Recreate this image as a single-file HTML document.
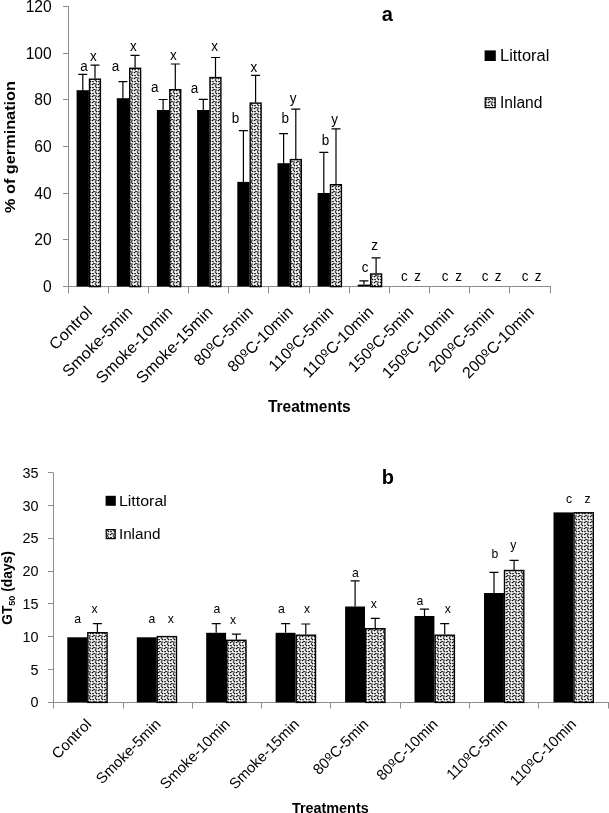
<!DOCTYPE html>
<html lang="en"><head><meta charset="utf-8"><title>Germination charts</title>
<style>html,body{margin:0;padding:0;background:#fff}svg{display:block}text{font-family:'Liberation Sans', Arial, sans-serif;fill:#000}</style>
</head><body>
<svg width="609" height="813" viewBox="0 0 609 813">
<defs><pattern id="dots" width="6" height="6" patternUnits="userSpaceOnUse"><rect width="6" height="6" fill="#fff"/><g fill="#000"><circle cx="2.5" cy="0.5" r="0.86"/><circle cx="2.5" cy="6.5" r="0.86"/><circle cx="-0.5" cy="2.0" r="0.86"/><circle cx="5.5" cy="2.0" r="0.86"/><circle cx="3.0" cy="3.5" r="0.86"/><circle cx="0.5" cy="3.5" r="0.86"/><circle cx="6.5" cy="3.5" r="0.86"/><circle cx="4.0" cy="-0.5" r="0.86"/><circle cx="4.0" cy="5.5" r="0.86"/><circle cx="0.0" cy="0.0" r="0.86"/><circle cx="0.0" cy="6.0" r="0.86"/><circle cx="6.0" cy="0.0" r="0.86"/><circle cx="6.0" cy="6.0" r="0.86"/></g></pattern></defs>
<rect width="609" height="813" fill="#fff"/>
<g stroke="#8c8c8c" stroke-width="1" fill="none">
<path d="M68.5 6.0V286.5H551.0"/>
<path d="M63.0 286.5H68.5M63.0 239.5H68.5M63.0 193.5H68.5M63.0 146.5H68.5M63.0 99.5H68.5M63.0 53.5H68.5M63.0 6.5H68.5M68.5 286.5v6.8M108.5 286.5v6.8M148.5 286.5v6.8M188.5 286.5v6.8M228.5 286.5v6.8M268.5 286.5v6.8M309.5 286.5v6.8M349.5 286.5v6.8M389.5 286.5v6.8M429.5 286.5v6.8M469.5 286.5v6.8M509.5 286.5v6.8M550.5 286.5v6.8"/>
</g>
<g font-size="15.6" text-anchor="end">
<text x="51.7" y="292.0">0</text>
<text x="51.7" y="245.3">20</text>
<text x="51.7" y="198.7">40</text>
<text x="51.7" y="152.0">60</text>
<text x="51.7" y="105.3">80</text>
<text x="51.7" y="58.7">100</text>
<text x="51.7" y="12.0">120</text>
</g>
<rect x="76.6" y="90.2" width="12.3" height="196.3" fill="#000"/>
<path d="M82.8 90.2V74.4M78.2 74.4h9" stroke="#000" stroke-width="1.2" fill="none"/>
<rect x="89.5" y="79.2" width="10.9" height="207.4" fill="url(#dots)" stroke="#000" stroke-width="1.4"/>
<path d="M95.0 78.6V65.2M90.5 65.2h9" stroke="#000" stroke-width="1.2" fill="none"/>
<rect x="116.8" y="98.2" width="12.3" height="188.3" fill="#000"/>
<path d="M122.9 98.2V81.7M118.4 81.7h9" stroke="#000" stroke-width="1.2" fill="none"/>
<rect x="129.7" y="68.3" width="10.9" height="218.3" fill="url(#dots)" stroke="#000" stroke-width="1.4"/>
<path d="M135.1 67.7V55.4M130.6 55.4h9" stroke="#000" stroke-width="1.2" fill="none"/>
<rect x="156.9" y="110.0" width="12.3" height="176.5" fill="#000"/>
<path d="M163.1 110.0V99.5M158.6 99.5h9" stroke="#000" stroke-width="1.2" fill="none"/>
<rect x="169.8" y="89.7" width="10.9" height="196.9" fill="url(#dots)" stroke="#000" stroke-width="1.4"/>
<path d="M175.3 89.1V64.0M170.8 64.0h9" stroke="#000" stroke-width="1.2" fill="none"/>
<rect x="197.1" y="110.0" width="12.3" height="176.5" fill="#000"/>
<path d="M203.3 110.0V99.3M198.8 99.3h9" stroke="#000" stroke-width="1.2" fill="none"/>
<rect x="210.0" y="77.6" width="10.9" height="209.0" fill="url(#dots)" stroke="#000" stroke-width="1.4"/>
<path d="M215.5 77.0V57.5M211.0 57.5h9" stroke="#000" stroke-width="1.2" fill="none"/>
<rect x="237.3" y="181.9" width="12.3" height="104.6" fill="#000"/>
<path d="M243.4 181.9V130.6M238.9 130.6h9" stroke="#000" stroke-width="1.2" fill="none"/>
<rect x="250.2" y="103.1" width="10.9" height="183.5" fill="url(#dots)" stroke="#000" stroke-width="1.4"/>
<path d="M255.6 102.5V75.3M251.1 75.3h9" stroke="#000" stroke-width="1.2" fill="none"/>
<rect x="277.5" y="163.2" width="12.3" height="123.3" fill="#000"/>
<path d="M283.6 163.2V133.6M279.1 133.6h9" stroke="#000" stroke-width="1.2" fill="none"/>
<rect x="290.4" y="159.6" width="10.9" height="127.0" fill="url(#dots)" stroke="#000" stroke-width="1.4"/>
<path d="M295.8 159.0V109.2M291.3 109.2h9" stroke="#000" stroke-width="1.2" fill="none"/>
<rect x="317.6" y="193.0" width="12.3" height="93.5" fill="#000"/>
<path d="M323.8 193.0V152.3M319.3 152.3h9" stroke="#000" stroke-width="1.2" fill="none"/>
<rect x="330.5" y="184.7" width="10.9" height="101.9" fill="url(#dots)" stroke="#000" stroke-width="1.4"/>
<path d="M336.0 184.1V128.9M331.5 128.9h9" stroke="#000" stroke-width="1.2" fill="none"/>
<rect x="357.8" y="284.6" width="12.3" height="1.9" fill="#000"/>
<path d="M363.9 284.6V280.8M359.4 280.8h9" stroke="#000" stroke-width="1.2" fill="none"/>
<rect x="370.7" y="274.0" width="10.9" height="12.6" fill="url(#dots)" stroke="#000" stroke-width="1.4"/>
<path d="M376.1 273.4V257.8M371.6 257.8h9" stroke="#000" stroke-width="1.2" fill="none"/>
<g font-size="14.5" text-anchor="middle">
<text transform="translate(83.9 71.3) scale(0.93 1.07)">a</text>
<text transform="translate(93.3 60.7) scale(0.93 1.07)">x</text>
<text transform="translate(115.4 71.3) scale(0.93 1.07)">a</text>
<text transform="translate(133.4 50.9) scale(0.93 1.07)">x</text>
<text transform="translate(154.8 92.3) scale(0.93 1.07)">a</text>
<text transform="translate(173.3 60.3) scale(0.93 1.07)">x</text>
<text transform="translate(194.5 92.5) scale(0.93 1.07)">a</text>
<text transform="translate(214.5 50.8) scale(0.93 1.07)">x</text>
<text transform="translate(235.5 123.2) scale(0.93 1.07)">b</text>
<text transform="translate(253.9 71.5) scale(0.93 1.07)">x</text>
<text transform="translate(285.3 123.2) scale(0.93 1.07)">b</text>
<text transform="translate(293.2 102.7) scale(0.93 1.07)">y</text>
<text transform="translate(325.4 144.9) scale(0.93 1.07)">b</text>
<text transform="translate(334.5 123.5) scale(0.93 1.07)">y</text>
<text transform="translate(365.2 271.5) scale(0.93 1.07)">c</text>
<text transform="translate(374.7 249.8) scale(0.93 1.07)">z</text>
<text transform="translate(404.3 281.3) scale(0.93 1.07)">c</text>
<text transform="translate(417.7 281.3) scale(0.93 1.07)">z</text>
<text transform="translate(445.1 281.3) scale(0.93 1.07)">c</text>
<text transform="translate(458.5 281.3) scale(0.93 1.07)">z</text>
<text transform="translate(485.2 281.3) scale(0.93 1.07)">c</text>
<text transform="translate(498.2 281.3) scale(0.93 1.07)">z</text>
<text transform="translate(525.0 281.3) scale(0.93 1.07)">c</text>
<text transform="translate(538.0 281.3) scale(0.93 1.07)">z</text>
</g>
<g font-size="15.9" text-anchor="end">
<text transform="translate(93.2 313.0) rotate(-45)" textLength="53.4" lengthAdjust="spacingAndGlyphs">Control</text>
<text transform="translate(133.4 313.0) rotate(-45)" textLength="91.5" lengthAdjust="spacingAndGlyphs">Smoke-5min</text>
<text transform="translate(173.5 313.0) rotate(-45)" textLength="100.6" lengthAdjust="spacingAndGlyphs">Smoke-10min</text>
<text transform="translate(213.7 313.0) rotate(-45)" textLength="100.6" lengthAdjust="spacingAndGlyphs">Smoke-15min</text>
<text transform="translate(253.9 313.0) rotate(-45)">80<tspan font-family="DejaVu Sans, sans-serif" font-size="15.1">º</tspan>C-5min</text>
<text transform="translate(294.0 313.0) rotate(-45)">80<tspan font-family="DejaVu Sans, sans-serif" font-size="15.1">º</tspan>C-10min</text>
<text transform="translate(334.2 313.0) rotate(-45)">110<tspan font-family="DejaVu Sans, sans-serif" font-size="15.1">º</tspan>C-5min</text>
<text transform="translate(374.4 313.0) rotate(-45)">110<tspan font-family="DejaVu Sans, sans-serif" font-size="15.1">º</tspan>C-10min</text>
<text transform="translate(414.5 313.0) rotate(-45)">150<tspan font-family="DejaVu Sans, sans-serif" font-size="15.1">º</tspan>C-5min</text>
<text transform="translate(454.7 313.0) rotate(-45)">150<tspan font-family="DejaVu Sans, sans-serif" font-size="15.1">º</tspan>C-10min</text>
<text transform="translate(494.9 313.0) rotate(-45)">200<tspan font-family="DejaVu Sans, sans-serif" font-size="15.1">º</tspan>C-5min</text>
<text transform="translate(535.1 313.0) rotate(-45)">200<tspan font-family="DejaVu Sans, sans-serif" font-size="15.1">º</tspan>C-10min</text>
</g>
<text x="387.4" y="21.3" font-size="20" text-anchor="middle" font-weight="bold">a</text>
<text x="309.3" y="411.5" font-size="16.5" text-anchor="middle" font-weight="bold" textLength="82.8" lengthAdjust="spacingAndGlyphs">Treatments</text>
<text transform="translate(15.0 147.0) rotate(-90)" font-size="15.5" text-anchor="middle" font-weight="bold" textLength="132" lengthAdjust="spacingAndGlyphs">% of germination</text>
<rect x="484.6" y="50.4" width="11.2" height="10.6" fill="#000"/>
<rect x="485.2" y="97.8" width="10" height="9.8" fill="url(#dots)" stroke="#000" stroke-width="1.2"/>
<text x="500.0" y="61.0" font-size="16" textLength="49.3" lengthAdjust="spacingAndGlyphs">Littoral</text>
<text x="500.0" y="108.4" font-size="16" textLength="42.4" lengthAdjust="spacingAndGlyphs">Inland</text>
<g stroke="#8c8c8c" stroke-width="1" fill="none">
<path d="M53.5 473.0V702.5H609.0"/>
<path d="M48.0 702.5H53.5M48.0 669.5H53.5M48.0 636.5H53.5M48.0 603.5H53.5M48.0 571.5H53.5M48.0 538.5H53.5M48.0 505.5H53.5M48.0 472.5H53.5M53.5 702.5v6M123.5 702.5v6M192.5 702.5v6M261.5 702.5v6M330.5 702.5v6M400.5 702.5v6M469.5 702.5v6M538.5 702.5v6M608.5 702.5v6"/>
</g>
<g font-size="14.4" text-anchor="end">
<text x="38.6" y="707.4">0</text>
<text x="38.6" y="674.6">5</text>
<text x="38.6" y="641.8">10</text>
<text x="38.6" y="609.0">15</text>
<text x="38.6" y="576.1">20</text>
<text x="38.6" y="543.3">25</text>
<text x="38.6" y="510.5">30</text>
<text x="38.6" y="477.7">35</text>
</g>
<rect x="67.3" y="637.3" width="19.9" height="65.0" fill="#000"/>
<rect x="87.8" y="632.7" width="19.3" height="69.7" fill="url(#dots)" stroke="#000" stroke-width="1.4"/>
<path d="M97.4 632.1V623.6M92.9 623.6h9" stroke="#000" stroke-width="1.2" fill="none"/>
<rect x="136.8" y="637.3" width="19.9" height="65.0" fill="#000"/>
<rect x="157.2" y="636.6" width="19.3" height="65.8" fill="url(#dots)" stroke="#000" stroke-width="1.4"/>
<rect x="206.2" y="632.8" width="19.9" height="69.5" fill="#000"/>
<path d="M216.2 632.8V623.6M211.7 623.6h9" stroke="#000" stroke-width="1.2" fill="none"/>
<rect x="226.7" y="640.3" width="19.3" height="62.1" fill="url(#dots)" stroke="#000" stroke-width="1.4"/>
<path d="M236.4 639.7V634.1M231.9 634.1h9" stroke="#000" stroke-width="1.2" fill="none"/>
<rect x="275.6" y="632.8" width="19.9" height="69.5" fill="#000"/>
<path d="M285.6 632.8V623.6M281.1 623.6h9" stroke="#000" stroke-width="1.2" fill="none"/>
<rect x="296.2" y="635.2" width="19.3" height="67.2" fill="url(#dots)" stroke="#000" stroke-width="1.4"/>
<path d="M305.8 634.6V624.0M301.3 624.0h9" stroke="#000" stroke-width="1.2" fill="none"/>
<rect x="345.1" y="606.5" width="19.9" height="95.8" fill="#000"/>
<path d="M355.1 606.5V580.8M350.6 580.8h9" stroke="#000" stroke-width="1.2" fill="none"/>
<rect x="365.6" y="628.7" width="19.3" height="73.7" fill="url(#dots)" stroke="#000" stroke-width="1.4"/>
<path d="M375.2 628.1V618.3M370.8 618.3h9" stroke="#000" stroke-width="1.2" fill="none"/>
<rect x="414.5" y="616.0" width="19.9" height="86.3" fill="#000"/>
<path d="M424.5 616.0V609.2M420.0 609.2h9" stroke="#000" stroke-width="1.2" fill="none"/>
<rect x="435.1" y="635.2" width="19.3" height="67.2" fill="url(#dots)" stroke="#000" stroke-width="1.4"/>
<path d="M444.7 634.6V623.7M440.2 623.7h9" stroke="#000" stroke-width="1.2" fill="none"/>
<rect x="484.0" y="593.0" width="19.9" height="109.3" fill="#000"/>
<path d="M494.0 593.0V572.4M489.5 572.4h9" stroke="#000" stroke-width="1.2" fill="none"/>
<rect x="504.5" y="570.5" width="19.3" height="131.9" fill="url(#dots)" stroke="#000" stroke-width="1.4"/>
<path d="M514.1 569.9V560.4M509.6 560.4h9" stroke="#000" stroke-width="1.2" fill="none"/>
<rect x="553.5" y="512.4" width="19.9" height="189.9" fill="#000"/>
<rect x="574.0" y="512.8" width="19.3" height="189.6" fill="url(#dots)" stroke="#000" stroke-width="1.4"/>
<g font-size="12.2" text-anchor="middle">
<text transform="translate(77.6 622.9) scale(1 1)">a</text>
<text transform="translate(94.6 612.7) scale(1 1)">x</text>
<text transform="translate(152.0 622.9) scale(1 1)">a</text>
<text transform="translate(170.9 622.9) scale(1 1)">x</text>
<text transform="translate(216.9 612.7) scale(1 1)">a</text>
<text transform="translate(233.0 623.7) scale(1 1)">x</text>
<text transform="translate(281.3 612.7) scale(1 1)">a</text>
<text transform="translate(307.0 613.1) scale(1 1)">x</text>
<text transform="translate(355.3 576.7) scale(1 1)">a</text>
<text transform="translate(373.9 607.8) scale(1 1)">x</text>
<text transform="translate(420.0 604.8) scale(1 1)">a</text>
<text transform="translate(447.8 613.1) scale(1 1)">x</text>
<text transform="translate(495.0 558.3) scale(1 1)">b</text>
<text transform="translate(513.4 549.1) scale(1 1)">y</text>
<text transform="translate(569.0 503.0) scale(1 1)">c</text>
<text transform="translate(587.5 503.0) scale(1 1)">z</text>
</g>
<g font-size="14.9" text-anchor="end">
<text transform="translate(92.3 725.1) rotate(-45)" textLength="49" lengthAdjust="spacingAndGlyphs">Control</text>
<text transform="translate(161.6 725.1) rotate(-45)" textLength="84.2" lengthAdjust="spacingAndGlyphs">Smoke-5min</text>
<text transform="translate(230.9 725.1) rotate(-45)">Smoke-10min</text>
<text transform="translate(300.1 725.1) rotate(-45)">Smoke-15min</text>
<text transform="translate(369.4 725.1) rotate(-45)">80<tspan font-family="DejaVu Sans, sans-serif" font-size="14.2">º</tspan>C-5min</text>
<text transform="translate(438.7 725.1) rotate(-45)">80<tspan font-family="DejaVu Sans, sans-serif" font-size="14.2">º</tspan>C-10min</text>
<text transform="translate(508.0 725.1) rotate(-45)">110<tspan font-family="DejaVu Sans, sans-serif" font-size="14.2">º</tspan>C-5min</text>
<text transform="translate(577.2 725.1) rotate(-45)">110<tspan font-family="DejaVu Sans, sans-serif" font-size="14.2">º</tspan>C-10min</text>
</g>
<text x="387.9" y="484.2" font-size="20" text-anchor="middle" font-weight="bold">b</text>
<text x="330.3" y="813.0" font-size="14.8" text-anchor="middle" font-weight="bold" textLength="76.8" lengthAdjust="spacingAndGlyphs">Treatments</text>
<text transform="translate(12.3 588) rotate(-90)" font-size="13.8" font-weight="bold" text-anchor="middle">GT<tspan font-size="9" dy="2.5">50</tspan><tspan dy="-2.5"> (days)</tspan></text>
<rect x="105.6" y="495.8" width="10.2" height="10" fill="#000"/>
<rect x="106.2" y="529.6" width="9" height="9" fill="url(#dots)" stroke="#000" stroke-width="1.2"/>
<text x="118.9" y="505.8" font-size="14" textLength="48" lengthAdjust="spacingAndGlyphs">Littoral</text>
<text x="118.9" y="538.6" font-size="14" textLength="41.6" lengthAdjust="spacingAndGlyphs">Inland</text>
</svg></body></html>
